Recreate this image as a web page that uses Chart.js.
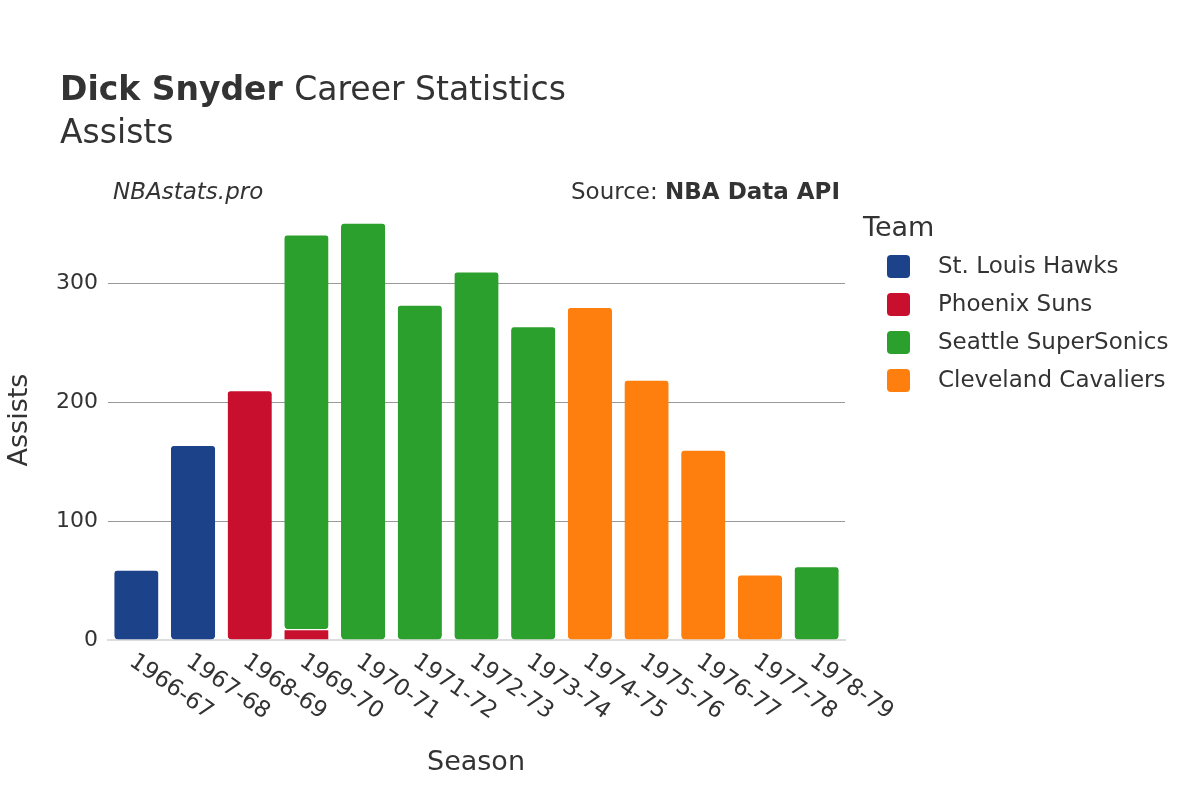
<!DOCTYPE html>
<html><head><meta charset="utf-8">
<script src="https://cdn.jsdelivr.net/npm/chart.js@4/dist/chart.umd.min.js"></script>
<style>html,body{margin:0;padding:0;background:#fff}#w{width:1200px;height:800px}</style>
</head><body><div id="w"><canvas id="c"></canvas></div>
<script>
const seasons=["1966-67","1967-68","1968-69","1969-70","1970-71","1971-72","1972-73","1973-74","1974-75","1975-76","1976-77","1977-78","1978-79"];
const hawks=[59,164,null,null,null,null,null,null,null,null,null,null,null];
const suns=[null,null,210,9,null,null,null,null,null,null,null,null,null];
const sonics=[null,null,null,332,351,282,310,264,null,null,null,null,62];
const cavs=[null,null,null,null,null,null,null,null,280,219,160,55,null];
const yTicks=[0,100,200,300];
const teams=['St. Louis Hawks','Phoenix Suns','Seattle SuperSonics','Cleveland Cavaliers'];
const colors=['#1c4289','#c8102e','#2ca02c','#ff7f0e'];
const F="'DejaVu Sans',sans-serif";
const txt={id:'txt',afterDraw(c){const x=c.ctx;x.save();x.fillStyle='#333';x.textBaseline='alphabetic';
x.font="bold 33px "+F;x.fillText('Dick Snyder',60,100);const w=x.measureText('Dick Snyder ').width;
x.font="33px "+F;x.fillText('Career Statistics',60+w,100);x.fillText('Assists',60,143);
x.font="italic 23px "+F;x.fillText('NBAstats.pro',113,199);
x.font="bold 23px "+F;const b=x.measureText('NBA Data API').width;x.textAlign='right';x.fillText('NBA Data API',840,199);
x.font="23px "+F;x.fillText('Source: ',840-b,199);
x.textAlign='left';x.font="27px "+F;x.fillText('Team',863,236);
x.font="23px "+F;teams.forEach((t,i)=>{const y=266+i*38;x.fillStyle=colors[i];x.beginPath();x.roundRect(887,y-11,23,23,4);x.fill();x.fillStyle='#333';x.textBaseline='middle';x.fillText(t,938,y+1);});
x.textBaseline='alphabetic';x.textAlign='center';x.font="27px "+F;x.fillText('Season',476,770);
x.save();x.translate(27,420);x.rotate(-Math.PI/2);x.fillText('Assists',0,0);x.restore();
const xs=c.scales.x;x.font="23px "+F;x.textAlign='left';x.textBaseline='top';
seasons.forEach((s,i)=>{const cx=xs.getPixelForValue(i);x.save();x.translate(cx+2,650);x.rotate(35*Math.PI/180);x.fillText(s,0,0);x.restore();});
x.restore();}};
const mk=(l,d,c)=>({label:l,data:d,backgroundColor:c,borderRadius:4,borderSkipped:false,borderWidth:{top:1,bottom:0,left:0,right:0},borderColor:'#fff',categoryPercentage:1,barPercentage:0.78});
new Chart(document.getElementById('c'),{type:'bar',plugins:[txt],
data:{labels:seasons,datasets:[mk(teams[0],hawks,colors[0]),mk(teams[1],suns,colors[1]),mk(teams[2],sonics,colors[2]),mk(teams[3],cavs,colors[3])]},
options:{responsive:true,maintainAspectRatio:false,animation:false,
layout:{padding:{top:212,left:0,right:355,bottom:152}},
plugins:{legend:{display:false},tooltip:{enabled:false}},
scales:{x:{stacked:true,grid:{display:false},border:{color:'#ddd',width:2},ticks:{display:false}},
y:{stacked:true,min:0,max:360,afterFit(s){s.width=108;},afterBuildTicks(a){a.ticks=yTicks.map(v=>({value:v}));},
grid:{color:'#999',drawTicks:false},border:{display:false},ticks:{color:'#333',font:{family:F,size:22},padding:10}}}}});
</script></body></html>
